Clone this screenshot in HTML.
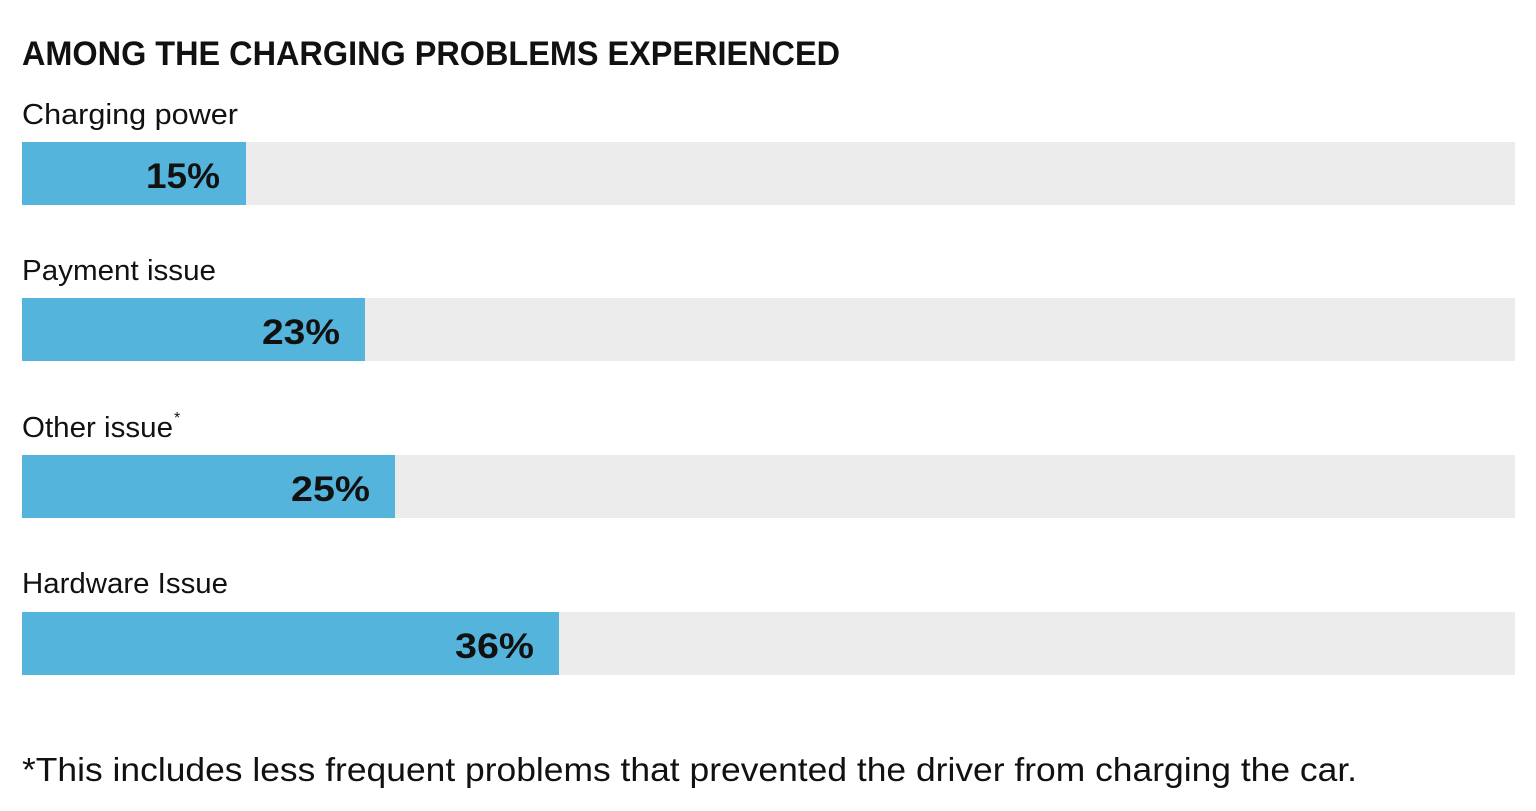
<!DOCTYPE html>
<html><head><meta charset="utf-8"><style>
html,body{margin:0;padding:0;background:#fff;}
svg{display:block;font-family:"Liberation Sans",sans-serif;}
</style></head><body>
<svg width="1536" height="811" viewBox="0 0 1536 811">
<text x="22" y="65" font-size="34" font-weight="bold" fill="#111" textLength="818" lengthAdjust="spacingAndGlyphs">AMONG THE CHARGING PROBLEMS EXPERIENCED</text>

<text x="22" y="124" font-size="29" fill="#111" textLength="216" lengthAdjust="spacingAndGlyphs">Charging power</text>
<rect x="22" y="142" width="1493" height="63" fill="#ececec"/>
<rect x="22" y="142" width="224" height="63" fill="#55b4dc"/>
<text x="146" y="188" font-size="35" font-weight="bold" fill="#111" textLength="74" lengthAdjust="spacingAndGlyphs">15%</text>

<text x="22" y="280" font-size="29" fill="#111" textLength="194" lengthAdjust="spacingAndGlyphs">Payment issue</text>
<rect x="22" y="298" width="1493" height="63" fill="#ececec"/>
<rect x="22" y="298" width="343" height="63" fill="#55b4dc"/>
<text x="262" y="344" font-size="35" font-weight="bold" fill="#111" textLength="78" lengthAdjust="spacingAndGlyphs">23%</text>

<text x="22" y="437" font-size="29" fill="#111" textLength="151" lengthAdjust="spacingAndGlyphs">Other issue</text>
<text x="174" y="423" font-size="16" fill="#111">*</text>
<rect x="22" y="455" width="1493" height="63" fill="#ececec"/>
<rect x="22" y="455" width="373" height="63" fill="#55b4dc"/>
<text x="291" y="501" font-size="35" font-weight="bold" fill="#111" textLength="79" lengthAdjust="spacingAndGlyphs">25%</text>

<text x="22" y="593" font-size="29" fill="#111" textLength="206" lengthAdjust="spacingAndGlyphs">Hardware Issue</text>
<rect x="22" y="612" width="1493" height="63" fill="#ececec"/>
<rect x="22" y="612" width="537" height="63" fill="#55b4dc"/>
<text x="455" y="658" font-size="35" font-weight="bold" fill="#111" textLength="79" lengthAdjust="spacingAndGlyphs">36%</text>

<text x="22" y="781" font-size="33" fill="#111" textLength="1335" lengthAdjust="spacingAndGlyphs">*This includes less frequent problems that prevented the driver from charging the car.</text>
</svg>
</body></html>
